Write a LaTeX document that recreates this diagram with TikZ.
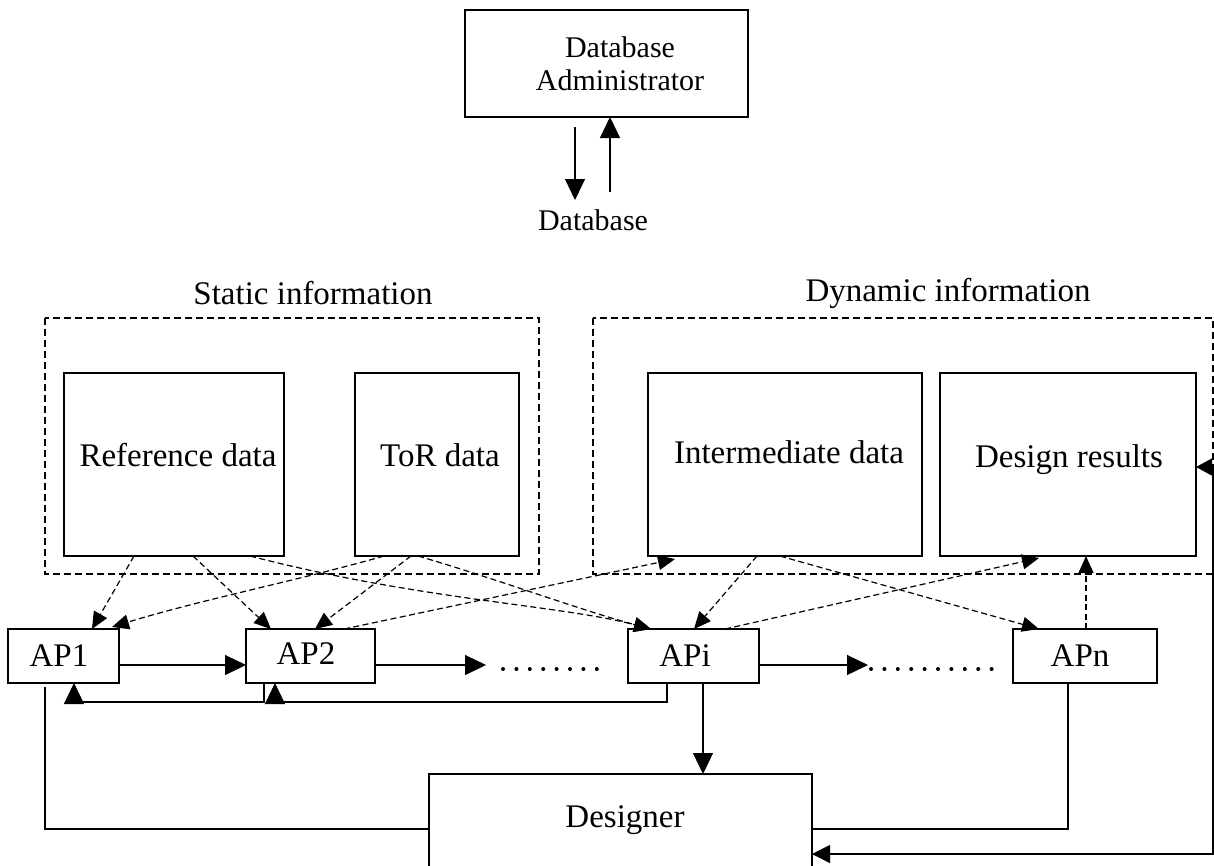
\documentclass[tikz,border=0pt]{standalone}
\usepackage{fontspec}
\setmainfont{Liberation Serif}
\usetikzlibrary{arrows.meta,calc}
\begin{document}
\begin{tikzpicture}[x=1pt,y=-1pt,
  box/.style={draw,line width=1.2pt,inner sep=0pt,outer sep=0pt,anchor=north west},
  dbox/.style={draw,line width=1.1pt,dash pattern=on 7pt off 4pt},
  txt/.style={font=\fontsize{33}{38}\selectfont,inner sep=0pt},
  arr/.style={line width=1.2pt,-{Triangle[length=21pt,width=20pt]}},
  darr/.style={line width=1.2pt,dash pattern=on 6pt off 3.5pt,-{Triangle[length=17pt,width=15pt]}},
  ln/.style={line width=1.2pt},
  dotrow/.style={line width=4pt,line cap=round,dash pattern=on 0pt off 13.4pt}]
\useasboundingbox (0,0) rectangle (1214,865);

% top
\node[box,minimum width=283pt,minimum height=107pt] (dba) at (465,10) {};
\node[txt,align=center,font=\fontsize{30}{33}\selectfont] (dbatxt) at (620,64) {Database\\Administrator};
\node[txt,font=\fontsize{30}{33}\selectfont] (db) at (593,220) {Database};
\draw[arr] ([xshift=-31.5pt,yshift=-10pt]dba.south) -- ++(0,73);
\draw[arr] ([xshift=3.5pt,yshift=-75pt]dba.south) -- ([xshift=3.5pt]dba.south);

% group labels and dashed frames
\node[txt] (stat) at (313,293) {Static information};
\node[txt] (dyn) at (948,293) {Dynamic information};
\draw[dbox] (45,318) rectangle (539,574);
\draw[dbox] (593,318) rectangle (1213,574);

% data boxes
\node[box,minimum width=220pt,minimum height=183pt] (ref) at (64,373) {};
\node[box,minimum width=164pt,minimum height=183pt] (tor) at (355,373) {};
\node[box,minimum width=274pt,minimum height=183pt] (inter) at (648,373) {};
\node[box,minimum width=256pt,minimum height=183pt] (res) at (940,373) {};
\node[txt] (reftxt) at (178,455) {Reference data};
\node[txt] (tortxt) at (440,455) {ToR data};
\node[txt] (intertxt) at (789,452) {Intermediate data};
\node[txt] (restxt) at (1069,460) {Design results};

% AP boxes
\node[box,minimum width=111pt,minimum height=54pt] (ap1) at (8,629) {};
\node[box,minimum width=129pt,minimum height=54pt] (ap2) at (246,629) {};
\node[box,minimum width=131pt,minimum height=54pt] (api) at (628,629) {};
\node[box,minimum width=144pt,minimum height=54pt] (apn) at (1013,629) {};
\node[txt] (ap1txt) at (59,656) {AP1};
\node[txt] (ap2txt) at (306,654) {AP2};
\node[txt] (apitxt) at (685,656) {APi};
\node[txt] (apntxt) at (1080,656) {APn};

% designer
\node[box,minimum width=383pt,minimum height=110pt] (des) at (429,774) {};
\node[txt] (destxt) at (625,820) {Designer};

% dots
\coordinate (d1a) at (503,669);
\coordinate (d1b) at (598,669);
\coordinate (d2a) at (871,669);
\coordinate (d2b) at (1001,669);
\draw[dotrow] (d1a) -- (d1b);
\draw[dotrow] (d2a) -- (d2b);
\coordinate (d1in) at (486,665);
\coordinate (d2in) at (868,665);

% solid connectors
\draw[arr] ([yshift=-9pt]ap1.east) -- ([yshift=-9pt]ap2.west);
\draw[arr] ([yshift=-9pt]ap2.east) -- (d1in);
\draw[arr] ([yshift=-9pt]api.east) -- (d2in);
\draw[arr] ([xshift=18pt]ap2.south west) -- ++(0,19) -| ([xshift=66pt]ap1.south west);
\draw[arr] ([xshift=39pt]api.south west) -- ++(0,19) -| ([xshift=29pt]ap2.south west);
\draw[ln] ([xshift=37pt,yshift=-4pt]ap1.south west) |- (des.west);
\draw[ln] ([xshift=55pt]apn.south west) |- (des.east);
\draw[arr] ([xshift=75pt]api.south west) -- ([xshift=274pt]des.north west);
\coordinate (rc) at (1213,467);
\draw[ln,{Triangle[length=18pt,width=18pt]}-{Triangle[length=16pt,width=17pt]}]
  ([yshift=-25pt]des.east) -| (rc) -- ([yshift=-2.5pt]res.east);

% dashed connectors
\draw[darr] ([xshift=70pt]ref.south west) -- ([xshift=84pt]ap1.north west);
\draw[darr] ([xshift=129pt]ref.south west) -- ([xshift=25pt]ap2.north west);
\draw[darr] ([xshift=186pt]ref.south west) .. controls (420,600) and (560,605) .. ([xshift=23pt]api.north west);
\draw[darr] ([xshift=29pt]tor.south west) .. controls (300,580) and (200,600) .. ([xshift=104pt,yshift=2pt]ap1.north west);
\draw[darr] ([xshift=56pt]tor.south west) -- ([xshift=69pt]ap2.north west);
\draw[darr] ([xshift=63pt]tor.south west) .. controls (500,580) and (580,610) .. ([xshift=23pt]api.north west);
\draw[darr] ([xshift=98pt]ap2.north west) -- ([xshift=27pt,yshift=-3pt]inter.south west);
\draw[darr] ([xshift=109pt]inter.south west) -- ([xshift=66pt]api.north west);
\draw[darr] ([xshift=132pt]inter.south west) -- ([xshift=26pt]apn.north west);
\draw[darr] ([xshift=97pt]api.north west) -- ([xshift=99pt,yshift=-2pt]res.south west);
\draw[darr] ([xshift=73pt]apn.north west) -- ([xshift=146pt]res.south west);
\end{tikzpicture}
\end{document}
